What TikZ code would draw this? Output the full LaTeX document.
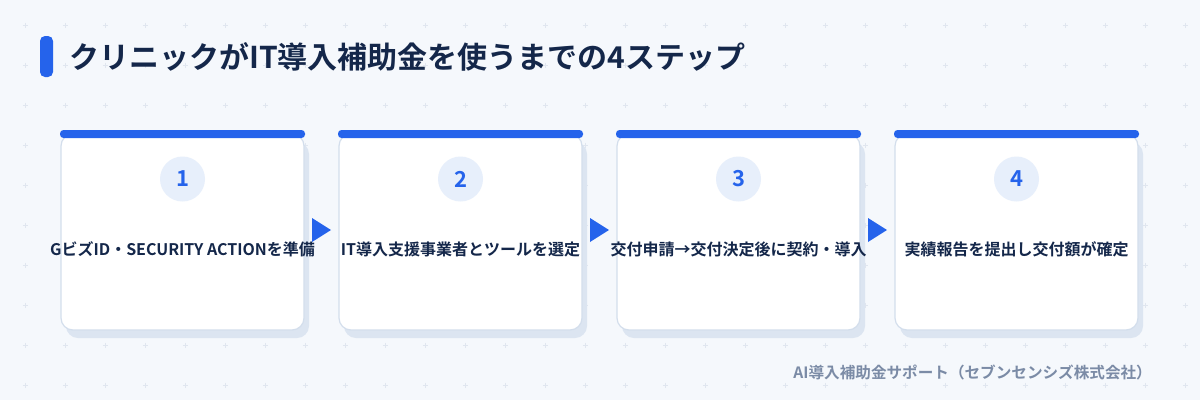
\documentclass[tikz,border=0pt]{standalone}
\usepackage{fontspec}
\setmainfont{Noto Sans CJK JP}[BoldFont={* Bold}]
\usetikzlibrary{calc}
\usetikzlibrary{positioning}

\definecolor{bgc}{HTML}{F5F8FC}
\definecolor{navy}{HTML}{14274A}
\definecolor{blu}{HTML}{2563EB}
\definecolor{edge}{HTML}{D3DEEC}
\definecolor{shade}{HTML}{DCE5F1}
\definecolor{disc}{HTML}{E7EFFB}
\definecolor{grey}{HTML}{7B8BA6}
\definecolor{dotc}{HTML}{E0E6EF}

\tikzset{
  card/.style={draw=edge, line width=1.2pt, fill=white, rounded corners=12pt,
    minimum width=243pt, minimum height=196pt, inner sep=0pt, outer sep=0pt,
    preaction={fill=shade, transform canvas={shift={(5pt,-8pt)}}}},
  topbar/.style={fill=blu, rounded corners=3.5pt},
  stepno/.style={circle, fill=disc, minimum size=45pt, inner sep=0pt, text=blu,
    font=\fontsize{22}{22}\selectfont\bfseries},
  steptext/.style={text=navy, inner sep=0pt, font=\fontsize{16}{16}\selectfont\bfseries},
  tri/.style={fill=blu},
}

\begin{document}
\begin{tikzpicture}[x=1pt,y=-1pt]
    % background and dot grid
    \fill[bgc] (0,0) rectangle (1200,400);
    \useasboundingbox (0,0) rectangle (1200,400);
    \foreach \x in {25,65,...,1185}
        \foreach \y in {25,65,...,385}
            \draw[dotc,line width=0.8pt] (\x-2.5,\y) -- (\x+2.5,\y) (\x,\y-2.5) -- (\x,\y+2.5);

    % title
    \fill[blu,rounded corners=5pt] (40,36) rectangle (53,77);
    \node[anchor=west,text=navy,inner sep=0pt,font=\fontsize{30}{30}\selectfont\bfseries] (title) at (69,57)
        {クリニックがIT導入補助金を使うまでの4ステップ};

    % cards
    \node[card] (c1) at (182.5,232) {};
    \node[card,right=35pt of c1] (c2) {};
    \node[card,right=35pt of c2] (c3) {};
    \node[card,right=35pt of c3] (c4) {};

    \foreach \c in {c1,c2,c3,c4}{
        \fill[topbar] ($(\c.north west)+(-1,-4)$) rectangle ($(\c.north east)+(1,4)$);
    }

    \node[stepno] (n1) at ($(c1.north)+(0,45)$) {1};
    \node[stepno] (n2) at ($(c2.north)+(0,45)$) {2};
    \node[stepno] (n3) at ($(c3.north)+(0,45)$) {3};
    \node[stepno] (n4) at ($(c4.north)+(0,45)$) {4};

    \node[steptext] (t1) at ($(c1.center)+(0,17)$) {GビズID・SECURITY ACTIONを準備};
    \node[steptext] (t2) at ($(c2.center)+(0,17)$) {IT導入支援事業者とツールを選定};
    \node[steptext] (t3) at ($(c3.center)+(0,17)$) {交付申請→交付決定後に契約・導入};
    \node[steptext] (t4) at ($(c4.center)+(0,17)$) {実績報告を提出し交付額が確定};

    % arrows between the steps
    \fill[tri] ($(c1.east)+(8,-14)$) -- ($(c1.east)+(27,-2)$) -- ($(c1.east)+(8,10)$) -- cycle;
    \fill[tri] ($(c2.east)+(8,-14)$) -- ($(c2.east)+(27,-2)$) -- ($(c2.east)+(8,10)$) -- cycle;
    \fill[tri] ($(c3.east)+(8,-14)$) -- ($(c3.east)+(27,-2)$) -- ($(c3.east)+(8,10)$) -- cycle;

    % footer
    \node[anchor=east,text=grey,inner sep=0pt,font=\fontsize{15.6}{15.6}\selectfont\bfseries] (foot) at (1152,373)
        {AI導入補助金サポート（セブンセンシズ株式会社）};
\end{tikzpicture}
\end{document}
